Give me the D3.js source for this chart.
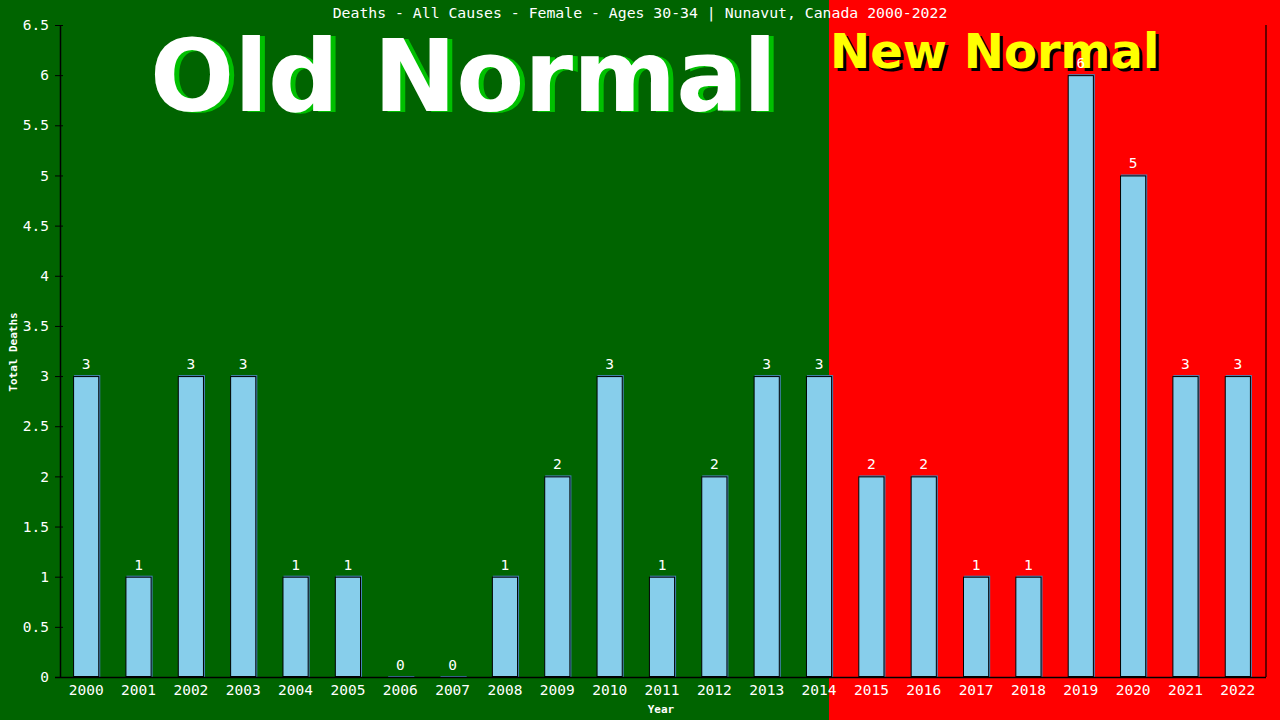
<!DOCTYPE html>
<html><head><meta charset="utf-8">
<script src="https://cdn.jsdelivr.net/npm/d3@7/dist/d3.min.js"></script>
<style>body{margin:0;background:#fff}svg{display:block}</style>
</head><body>
<svg id="c" width="1280" height="720"></svg>
<script>
const years = ["2000","2001","2002","2003","2004","2005","2006","2007","2008","2009","2010","2011","2012","2013","2014","2015","2016","2017","2018","2019","2020","2021","2022"];
const deaths = [3,1,3,3,1,1,0,0,1,2,3,1,2,3,3,2,2,1,1,6,5,3,3];
const yTicks = [0,0.5,1,1.5,2,2.5,3,3.5,4,4.5,5,5.5,6,6.5];
const titleText = "Deaths - All Causes - Female - Ages 30-34 | Nunavut, Canada 2000-2022";
const oldLabel = "Old Normal", newLabel = "New Normal";
const splitYear = "2014";

const W = 1280, H = 720;
const m = {l:60, r:14, t:25, b:43};
const svg = d3.select("#c");
const x = d3.scaleBand().domain(years).range([m.l, W - m.r - 2]).paddingInner(0.5).paddingOuter(0.25);
const y = d3.scaleLinear().domain([0, 6.5]).range([H - m.b, m.t]);
const mono = "'DejaVu Sans Mono', monospace";
const fs = 14.5;

const splitX = x(splitYear) + x.bandwidth() * 0.88;
svg.append("rect").attr("x",0).attr("y",0).attr("width",splitX).attr("height",H).attr("fill","#006400");
svg.append("rect").attr("x",splitX).attr("y",0).attr("width",W-splitX).attr("height",H).attr("fill","#ff0000");

// big labels
const oldX = 150, oldY = 111;
const bigFont = "'DejaVu Sans', sans-serif";
svg.append("text").attr("x",oldX+5).attr("y",oldY+1).text(oldLabel)
  .attr("font-family",bigFont).attr("font-weight","bold").attr("font-size",99).attr("fill","#00c000");
svg.append("text").attr("x",oldX).attr("y",oldY).text(oldLabel)
  .attr("font-family",bigFont).attr("font-weight","bold").attr("font-size",99).attr("fill","#ffffff");
const nX = 830, nY = 68;
svg.append("text").attr("x",nX+3).attr("y",nY+3).text(newLabel)
  .attr("font-family",bigFont).attr("font-weight","bold").attr("font-size",48).attr("fill","#000");
svg.append("text").attr("x",nX).attr("y",nY).text(newLabel)
  .attr("font-family",bigFont).attr("font-weight","bold").attr("font-size",48).attr("fill","#ffff00");

// title
svg.append("text").attr("x",640).attr("y",18).attr("text-anchor","middle").text(titleText)
  .attr("font-family",mono).attr("font-size",14.8).attr("fill","#fff");

// bars
const g = svg.append("g");
years.forEach((yr,i)=>{
  const v = deaths[i];
  const bx = x(yr), bw = x.bandwidth(), by = y(v), bh = y(0) - y(v);
  g.append("rect").attr("x",bx+1).attr("y",by-1).attr("width",bw).attr("height",Math.max(bh,1)+1).attr("fill","#4682b4");
  if (v > 0) {
    g.append("rect").attr("x",bx+0.5).attr("y",by+0.5).attr("width",bw-1).attr("height",bh-1)
      .attr("fill","#87ceeb").attr("stroke","#000").attr("stroke-width",1);
  }
});

// axes
const yAxis = d3.axisLeft(y).tickValues(yTicks).tickSize(5).tickFormat(d=>String(d));
const ya = svg.append("g").attr("transform",`translate(${m.l},0)`).call(yAxis);
const xAxis = d3.axisBottom(x).tickSize(0).tickPadding(8);
const xa = svg.append("g").attr("transform",`translate(0,${H-m.b})`).call(xAxis);
[ya,xa].forEach(a=>{
  a.selectAll("path").attr("stroke","#000").attr("stroke-width",1.5);
  a.selectAll("line").attr("stroke","#000");
  a.selectAll("text").attr("fill","#fff").attr("font-family",mono).attr("font-size",fs);
});
ya.selectAll(".tick line").attr("x1",3).attr("x2",-5);
xa.select("path").attr("d",`M${m.l-5},0.5H${W-m.r}`);
ya.select("path").attr("d",`M0.5,${m.t}V${H-m.b}`);
ya.selectAll("text").attr("x",-11);
svg.append("line").attr("x1",W-m.r).attr("x2",W-m.r).attr("y1",m.t).attr("y2",H-m.b).attr("stroke","#000").attr("stroke-width",1.2);

// value labels
years.forEach((yr,i)=>{
  svg.append("text").attr("x",x(yr)+x.bandwidth()/2).attr("y",y(deaths[i])-7).attr("text-anchor","middle")
    .text(deaths[i]).attr("font-family",mono).attr("font-size",fs).attr("fill","#fff");
});

// axis titles
svg.append("text").attr("x",661).attr("y",713).attr("text-anchor","middle").text("Year")
  .attr("font-family",mono).attr("font-weight","bold").attr("font-size",11).attr("fill","#fff");
svg.append("text").attr("transform","translate(17,352) rotate(-90)").attr("text-anchor","middle").text("Total Deaths")
  .attr("font-family",mono).attr("font-weight","bold").attr("font-size",11).attr("fill","#fff");
</script>
</body></html>
